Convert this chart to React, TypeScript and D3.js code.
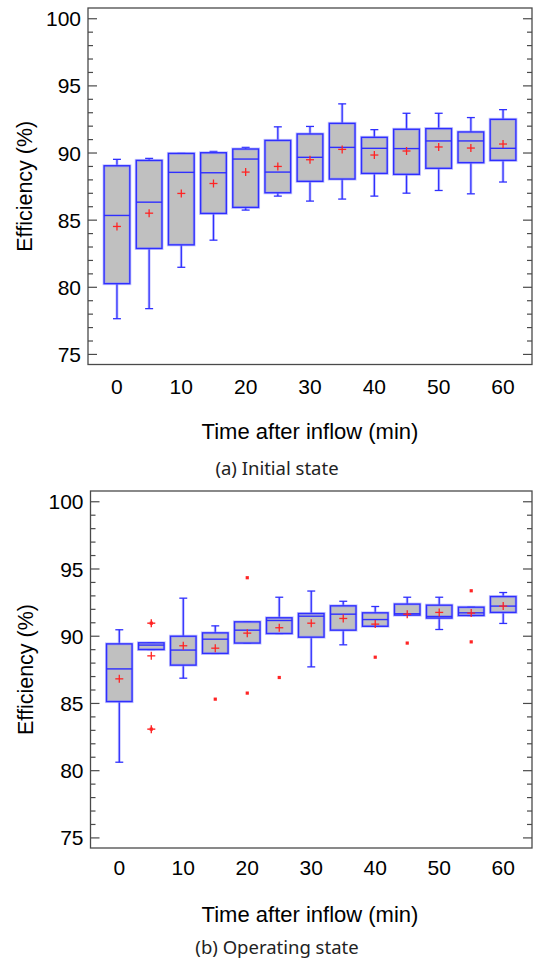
import React from "react";
import * as d3 from "d3";

// ---- data ----
const minutes = [0, 5, 10, 15, 20, 25, 30, 35, 40, 45, 50, 55, 60];
const xTickLabels = [0, 10, 20, 30, 40, 50, 60];
const yTickLabels = [75, 80, 85, 90, 95, 100];

// (a) Initial state
const initLow = [77.66, 78.41, 81.49, 83.51, 85.75, 86.79, 86.42, 86.57, 86.79, 87.01, 87.21, 86.96, 87.84];
const initQ1 = [80.27, 82.89, 83.16, 85.5, 85.95, 87.04, 87.89, 88.06, 88.48, 88.41, 88.86, 89.28, 89.45];
const initMed = [85.35, 86.34, 88.56, 88.53, 89.55, 88.58, 89.68, 90.42, 90.35, 90.33, 90.9, 90.9, 90.35];
const initQ3 = [89.05, 89.45, 89.97, 90.02, 90.3, 90.94, 91.42, 92.21, 91.17, 91.77, 91.82, 91.57, 92.51];
const initHigh = [89.53, 89.6, 89.97, 90.12, 90.42, 91.95, 91.98, 93.66, 91.74, 92.96, 92.96, 92.64, 93.23];
const initMean = [84.53, 85.52, 86.99, 87.73, 88.58, 89.0, 89.5, 90.27, 89.85, 90.15, 90.45, 90.37, 90.67];

// (b) Operating state
const operLow = [80.63, 89.01, 86.88, 88.72, 89.49, 90.2, 87.72, 89.36, 90.74, 91.57, 90.5, 91.54, 90.95];
const operQ1 = [85.14, 89.01, 87.85, 88.72, 89.49, 90.2, 89.93, 90.45, 90.74, 91.57, 91.35, 91.54, 91.77];
const operMed = [87.57, 89.34, 88.97, 89.78, 90.45, 91.17, 91.49, 91.64, 91.24, 91.67, 91.47, 91.74, 92.24];
const operQ3 = [89.43, 89.51, 90.0, 90.25, 91.07, 91.37, 91.69, 92.26, 91.74, 92.39, 92.31, 92.16, 92.95];
const operHigh = [90.48, 89.51, 92.83, 90.77, 91.07, 92.9, 93.36, 92.6, 92.21, 92.9, 92.9, 92.16, 93.25];
const operMean = [86.83, 88.54, 89.29, 89.11, 90.23, 90.63, 90.97, 91.32, 90.9, 91.64, 91.77, 91.72, 92.24];
const operOutlierMin = [5, 5, 15, 20, 20, 25, 40, 45, 55, 55];
const operOutlierVal = [90.97, 83.09, 85.32, 94.35, 85.77, 86.93, 88.44, 89.49, 93.38, 89.58];
const operOutlierFar = [true, true, false, false, false, false, false, false, false, false];

// ---- styling ----
const BLUE = "#2f2fff";
const HALO = "#8c8cff";
const RED = "#ff2424";
const FRAME = "#4a4a4a";
const TICK_FONT = "'Liberation Sans', Arial, sans-serif";
const CAP_FONT = "'Noto Sans', sans-serif";

type PanelProps = {
  low: number[];
  q1: number[];
  med: number[];
  q3: number[];
  high: number[];
  mean: number[];
  outMin?: number[];
  outVal?: number[];
  outFar?: boolean[];
  left: number;
  top: number;
  right: number;
  bottom: number;
  xLabelY: number;
  titleY: number;
  captionY: number;
  yTitleX: number;
  caption: string;
};

function Panel(p: PanelProps) {
  const x = d3.scaleLinear().domain([-4.5, 64.5]).range([p.left, p.right]);
  const y = d3.scaleLinear().domain([74.25, 100.8]).range([p.bottom, p.top]);
  const boxHalf = (x(2) - x(0));
  const capHalf = (x(0.62) - x(0));
  const minorTicks = d3.range(75, 101, 1);
  const plotMid = (p.top + p.bottom) / 2;

  return (
    <g>
      {/* frame */}
      <rect x={p.left} y={p.top} width={p.right - p.left} height={p.bottom - p.top}
        fill="none" stroke={FRAME} strokeWidth={1.3} />
      {/* ticks */}
      {minorTicks.map((v) => {
        const major = v % 5 === 0;
        const len = major ? 9 : 5;
        return (
          <g key={"t" + v}>
            <line x1={p.left} x2={p.left + len} y1={y(v)} y2={y(v)} stroke={FRAME} strokeWidth={1.2} />
            <line x1={p.right} x2={p.right - len} y1={y(v)} y2={y(v)} stroke={FRAME} strokeWidth={1.2} />
          </g>
        );
      })}
      {yTickLabels.map((v) => (
        <text key={"yl" + v} x={p.left - 7} y={y(v)} dy="0.36em" textAnchor="end"
          fontFamily={TICK_FONT} fontSize={21} fill="#000">{v}</text>
      ))}
      {xTickLabels.map((v) => (
        <text key={"xl" + v} x={x(v)} y={p.xLabelY} textAnchor="middle"
          fontFamily={TICK_FONT} fontSize={21} fill="#000">{v}</text>
      ))}
      <text x={310} y={p.titleY} textAnchor="middle" fontFamily={TICK_FONT} fontSize={22} fill="#000">
        Time after inflow (min)
      </text>
      <text transform={`translate(${p.yTitleX},${plotMid}) rotate(-90)`} textAnchor="middle"
        fontFamily={TICK_FONT} fontSize={21.5} fill="#000">Efficiency (%)</text>
      <text x={277} y={p.captionY} textAnchor="middle" fontFamily={CAP_FONT} fontSize={18.5} fill="#222">
        {p.caption}
      </text>

      {/* boxes */}
      {minutes.map((m, i) => {
        const cx = x(m);
        const yq1 = y(p.q1[i]);
        const yq3 = y(p.q3[i]);
        const yl = y(p.low[i]);
        const yh = y(p.high[i]);
        const ym = y(p.med[i]);
        const ymean = y(p.mean[i]);
        return (
          <g key={"b" + m}>
            {/* halo */}
            <line x1={cx} x2={cx} y1={yq3} y2={yh} stroke={HALO} strokeOpacity={0.45} strokeWidth={3} />
            <line x1={cx} x2={cx} y1={yq1} y2={yl} stroke={HALO} strokeOpacity={0.45} strokeWidth={3} />
            <line x1={cx} x2={cx} y1={yq3} y2={yh} stroke={BLUE} strokeWidth={1.3} />
            <line x1={cx} x2={cx} y1={yq1} y2={yl} stroke={BLUE} strokeWidth={1.3} />
            <line x1={cx - capHalf} x2={cx + capHalf} y1={yh} y2={yh} stroke={BLUE} strokeWidth={1.3} />
            <line x1={cx - capHalf} x2={cx + capHalf} y1={yl} y2={yl} stroke={BLUE} strokeWidth={1.3} />
            <rect x={cx - boxHalf} y={yq3} width={boxHalf * 2} height={Math.max(yq1 - yq3, 0.5)}
              fill="#c0c0c0" stroke={HALO} strokeOpacity={0.5} strokeWidth={3} />
            <rect x={cx - boxHalf} y={yq3} width={boxHalf * 2} height={Math.max(yq1 - yq3, 0.5)}
              fill="none" stroke={BLUE} strokeWidth={1.4} />
            <line x1={cx - boxHalf} x2={cx + boxHalf} y1={ym} y2={ym} stroke={BLUE} strokeWidth={1.4} />
            <line x1={cx - 4} x2={cx + 4} y1={ymean} y2={ymean} stroke={RED} strokeWidth={1.3} />
            <line x1={cx} x2={cx} y1={ymean - 4} y2={ymean + 4} stroke={RED} strokeWidth={1.3} />
          </g>
        );
      })}

      {/* outliers */}
      {(p.outMin || []).map((m, i) => {
        const cx = x(m);
        const cy = y((p.outVal as number[])[i]);
        const far = (p.outFar as boolean[])[i];
        return (
          <g key={"o" + i}>
            <rect x={cx - 1.6} y={cy - 1.6} width={3.2} height={3.2} fill={RED} />
            {far && (
              <g>
                <line x1={cx - 4} x2={cx + 4} y1={cy} y2={cy} stroke={RED} strokeWidth={1.4} />
                <line x1={cx} x2={cx} y1={cy - 4} y2={cy + 4} stroke={RED} strokeWidth={1.4} />
              </g>
            )}
          </g>
        );
      })}
    </g>
  );
}

export default function App() {
  return (
    <svg width={534} height={961} viewBox="0 0 534 961"
      style={{ position: "absolute", left: 0, top: 0, background: "#fff" }}>
      <rect x={0} y={0} width={534} height={961} fill="#fff" />
      <Panel low={initLow} q1={initQ1} med={initMed} q3={initQ3} high={initHigh} mean={initMean}
        left={88} top={8} right={532} bottom={364.5}
        xLabelY={394} titleY={439} captionY={475} yTitleX={32}
        caption="(a) Initial state" />
      <Panel low={operLow} q1={operQ1} med={operMed} q3={operQ3} high={operHigh} mean={operMean}
        outMin={operOutlierMin} outVal={operOutlierVal} outFar={operOutlierFar}
        left={90.5} top={491} right={532} bottom={848}
        xLabelY={875} titleY={922} captionY={954} yTitleX={33}
        caption="(b) Operating state" />
    </svg>
  );
}
